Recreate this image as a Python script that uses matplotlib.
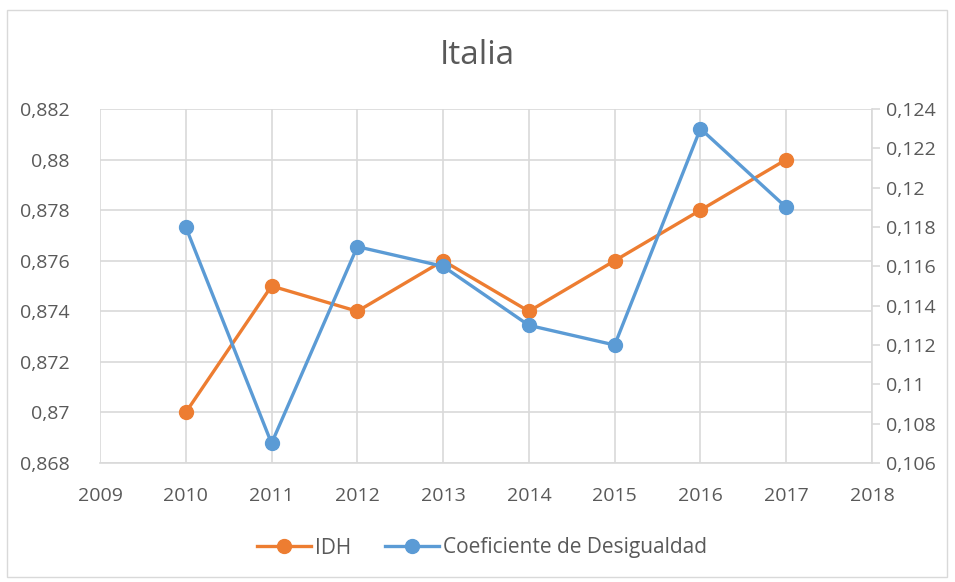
import matplotlib
matplotlib.use("Agg")
from matplotlib import pyplot as plt
from matplotlib.ticker import FuncFormatter, MultipleLocator
from matplotlib.patches import Rectangle

years = [2010, 2011, 2012, 2013, 2014, 2015, 2016, 2017]
idh = [0.870, 0.875, 0.874, 0.876, 0.874, 0.876, 0.878, 0.880]
desigualdad = [0.118, 0.107, 0.117, 0.116, 0.113, 0.112, 0.123, 0.119]

plt.rcParams['font.family'] = ['Open Sans', 'DejaVu Sans']

orange = '#ED7D31'
blue = '#5B9BD5'
grid_c = '#D9D9D9'
text_c = '#595959'


def comma(v, pos):
    s = f"{v:.3f}".rstrip('0').rstrip('.')
    return s.replace('.', ',')


fig = plt.figure(figsize=(9.55, 5.82), dpi=100)
ax = fig.add_axes([100 / 955, 1 - 463 / 582, 772 / 955, 354 / 582])
ax2 = ax.twinx()

# Lines
l1, = ax.plot(years, idh, color=orange, lw=2.4, marker='o', ms=10, label='IDH', zorder=3)
l2, = ax2.plot(years, desigualdad, color=blue, lw=2.4, marker='o', ms=10,
               label='Coeficiente de Desigualdad', zorder=3)

ax.set_xlim(2009, 2018)
ax.set_ylim(0.868, 0.882)
ax2.set_ylim(0.106, 0.124)
ax.xaxis.set_major_locator(MultipleLocator(1))
ax.yaxis.set_major_locator(MultipleLocator(0.002))
ax2.yaxis.set_major_locator(MultipleLocator(0.002))
ax.yaxis.set_major_formatter(FuncFormatter(comma))
ax2.yaxis.set_major_formatter(FuncFormatter(comma))

# Grid
ax.grid(True, color=grid_c, lw=1.2)
ax.set_axisbelow(True)

# Spines
for s in ['top', 'left', 'right']:
    ax.spines[s].set_visible(False)
    ax2.spines[s].set_visible(False)
ax.spines['bottom'].set_color(grid_c)
ax.spines['bottom'].set_linewidth(1.2)
ax2.spines['bottom'].set_visible(False)
ax2.spines['right'].set_visible(True)
ax2.spines['right'].set_color(grid_c)
ax2.spines['right'].set_linewidth(1.2)

ax.tick_params(axis='y', length=0, labelsize=14, labelcolor=text_c, pad=22)
ax.tick_params(axis='x', length=0, labelsize=14, labelcolor=text_c, pad=17)
ax2.tick_params(axis='y', length=6, width=1.2, color=grid_c, direction='out',
                labelsize=14, labelcolor=text_c, pad=4)

# Title
fig.text(0.5, 1 - 55 / 582, 'Italia', ha='center', va='center', fontsize=24, color=text_c)

# Legend
fig.legend(handles=[l1, l2], loc='center', bbox_to_anchor=(0.505, 1 - 548 / 582),
           ncol=2, frameon=False, fontsize=15, labelcolor=text_c,
           handlelength=2.6, columnspacing=1.6, handletextpad=0.2)

# Chart border
fig.patches.append(Rectangle((7 / 955, 5 / 582), 940 / 955, 567 / 582,
                             transform=fig.transFigure, fill=False,
                             edgecolor=grid_c, lw=1))

fig.savefig('out.png', dpi=100)
